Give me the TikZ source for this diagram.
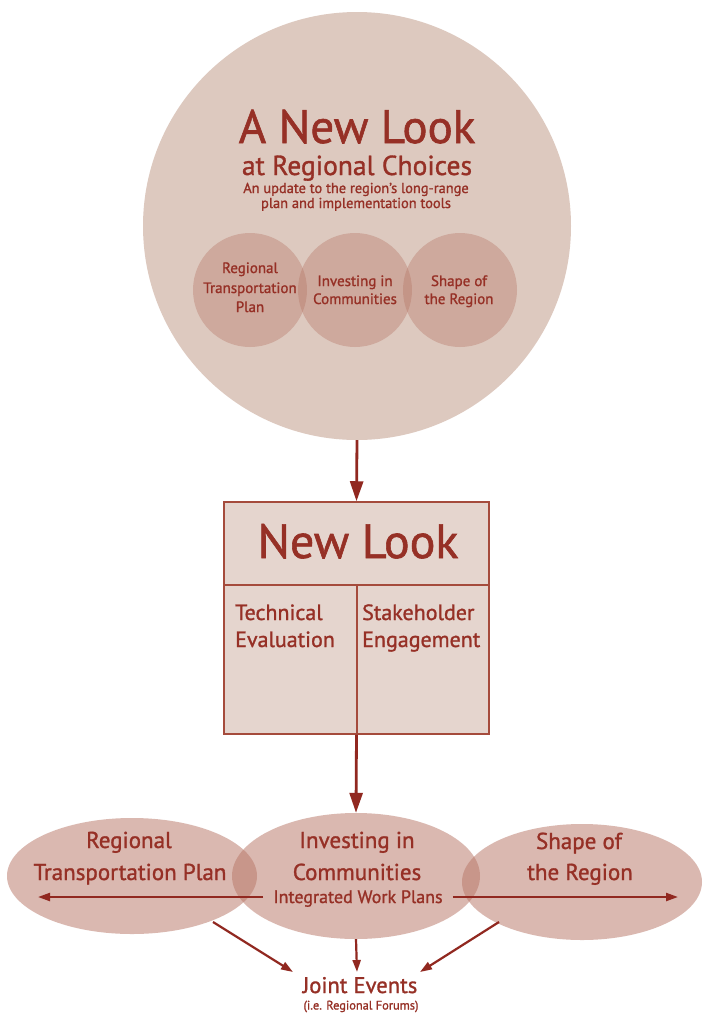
\documentclass[tikz,border=0pt]{standalone}
\usepackage{fontspec}
\setmainfont{PT Sans}[FakeBold=1.2]
\usetikzlibrary{arrows.meta,shapes.geometric}
\definecolor{txt}{RGB}{150,48,38}
\definecolor{arrc}{RGB}{145,40,32}
\definecolor{bigc}{RGB}{221,201,191}
\definecolor{tint}{RGB}{180,112,96}
\definecolor{boxfill}{RGB}{229,213,206}
\definecolor{boxline}{RGB}{165,75,60}
\definecolor{elc}{RGB}{185,120,105}
\begin{document}
\begin{tikzpicture}[x=1pt,y=-1pt,
  lbl/.style={text=txt, inner sep=0pt, anchor=base},
  sub/.style={circle, minimum size=114pt, inner sep=0pt, fill=tint, fill opacity=0.35, draw=none},
  ell/.style={ellipse, fill=elc, fill opacity=0.52, draw=none, inner sep=0pt},
  bigarrow/.style={draw=arrc, line width=2.8pt, -{Triangle[length=20pt,width=13pt]}},
  smallarrow/.style={draw=arrc, line width=2.2pt, -{Triangle[length=12pt,width=8pt]}},
  boxstroke/.style={draw=boxline, line width=1.5pt}]
\useasboundingbox (0,0) rectangle (705,1015);
\fill[white] (0,0) rectangle (705,1015);
% big circle
\node[circle, minimum size=428pt, inner sep=0pt, fill=bigc] (big) at (357,226) {};
\node[lbl, font=\fontsize{47}{47}\selectfont] (t1) at (357,143) {A New Look};
\node[lbl, font=\fontsize{27.5}{27.5}\selectfont] (t2) at (357,175) {at Regional Choices};
\node[lbl, font=\fontsize{14.4}{14.4}\selectfont] (t3) at (356,193) {An update to the region's long-range};
\node[lbl, font=\fontsize{14.4}{14.4}\selectfont] (t4) at (356,208) {plan and implementation tools};
% small circles
\node[sub] (c1) at (250,290) {};
\node[sub] (c2) at (355,290) {};
\node[sub] (c3) at (460,290) {};
\begin{scope}[every node/.style={lbl, font=\fontsize{15}{15}\selectfont}]
\node (c1a) at (250,273) {Regional};
\node (c1b) at (250,293) {Transportation};
\node (c1c) at (250,312) {Plan};
\node (c2a) at (355,286) {Investing in};
\node (c2b) at (355,304) {Communities};
\node (c3a) at (459,286) {Shape of};
\node (c3b) at (459,304) {the Region};
\end{scope}
% box
\node[boxstroke, fill=boxfill, minimum width=265pt, minimum height=232pt, inner sep=0pt] (box) at (356.5,618) {};
\coordinate (dl) at (224,585);
\coordinate (dr) at (489,585);
\coordinate (dm) at (357,585);
\draw[boxstroke] (dl) -- (dr);
\draw[boxstroke] (dm) -- (dm |- box.south);
\node[lbl, font=\fontsize{48}{48}\selectfont] (nl) at (358,558) {New Look};
\begin{scope}[every node/.style={lbl, anchor=base west, font=\fontsize{22}{22}\selectfont}]
\node (te1) at (235,620) {Technical};
\node (te2) at (235,647) {Evaluation};
\node (se1) at (362,620) {Stakeholder};
\node (se2) at (362,647) {Engagement};
\end{scope}
% ellipses
\node[ell, minimum width=250pt, minimum height=116pt] (L) at (132,876) {};
\node[ell, minimum width=248pt, minimum height=126pt] (M) at (356,876) {};
\node[ell, minimum width=240pt, minimum height=116pt] (R) at (582,882) {};
\begin{scope}[every node/.style={lbl, font=\fontsize{23}{23}\selectfont}]
\node (l1) at (129,848) {Regional};
\node (l2) at (130,880) {Transportation Plan};
\node (m1) at (357,848) {Investing in};
\node (m2) at (357,880) {Communities};
\node (r1) at (579,849) {Shape of};
\node (r2) at (580,880) {the Region};
\end{scope}
\node[lbl, font=\fontsize{18}{18}\selectfont, inner xsep=10pt] (iwp) at (358,903) {Integrated Work Plans};
\node[lbl, font=\fontsize{22.6}{22.6}\selectfont] (je) at (360,993) {Joint Events};
\node[lbl, font=\fontsize{12.4}{12.4}\selectfont] (rf) at (361,1009.5) {(i.e. Regional Forums)};
% arrows
\draw[bigarrow] (big.south) -- (box.north);
\draw[bigarrow] (box.south) -- (M.north);
\coordinate (hl) at (38,897);
\coordinate (hr) at (678,897);
\coordinate (iwl) at (iwp.west |- hl);
\coordinate (iwr) at (iwp.east |- hr);
\draw[smallarrow] (iwl) -- (hl);
\draw[smallarrow] (iwr) -- (hr);
\coordinate (dls) at (213,922);
\coordinate (dlt) at (293,972);
\coordinate (drs) at (499,922);
\coordinate (drt) at (420,972);
\coordinate (dmt) at (357,972);
\draw[smallarrow] (dls) -- (dlt);
\draw[smallarrow] (drs) -- (drt);
\draw[smallarrow] (M.south) -- (dmt);
\end{tikzpicture}
\end{document}
